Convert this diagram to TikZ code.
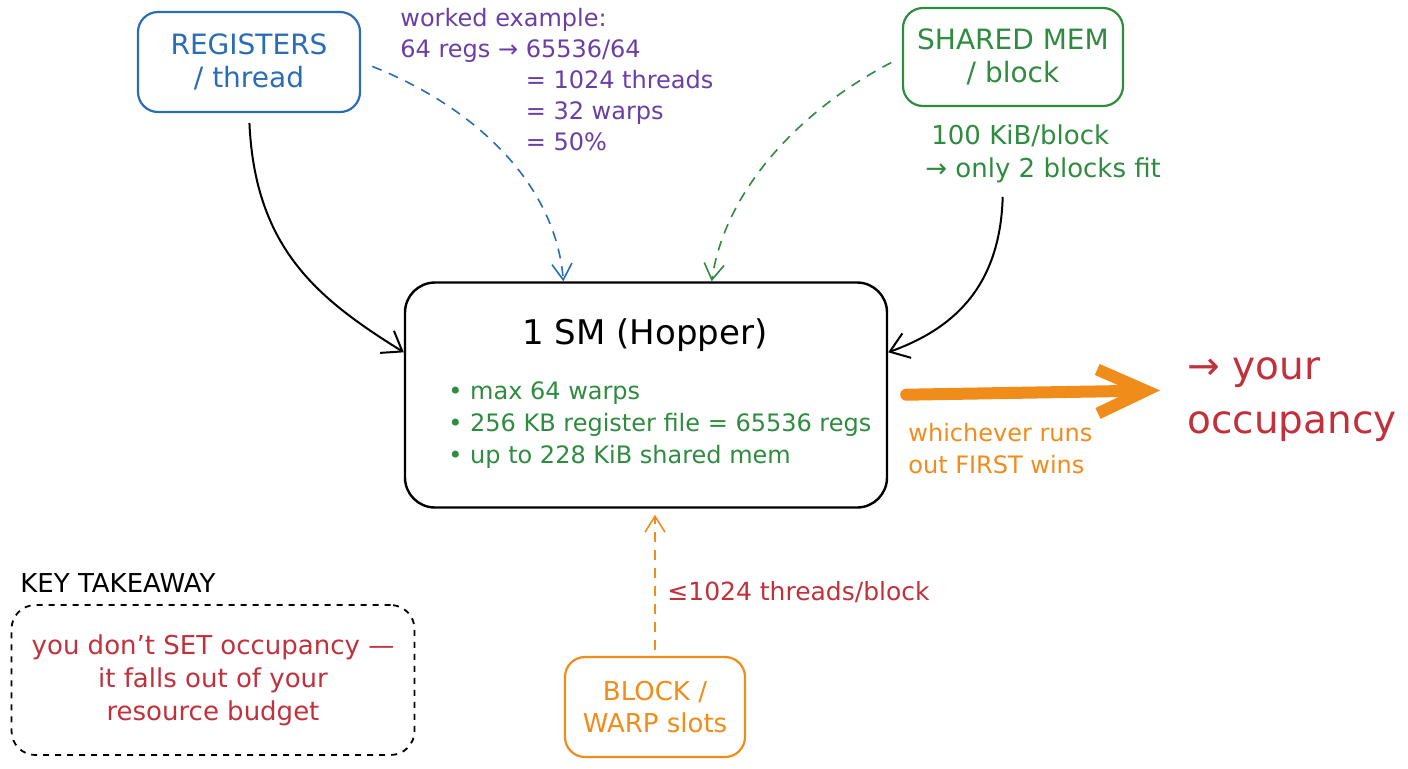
\documentclass[tikz,border=0pt]{standalone}
\usepackage{fontspec}
\setmainfont{DejaVu Sans}
\usetikzlibrary{positioning, arrows.meta}
\usepackage{xcolor}
\definecolor{regblue}{HTML}{2A6DB4}
\definecolor{exviolet}{HTML}{6A3FA5}
\definecolor{shmgreen}{HTML}{2E8B3F}
\definecolor{flowor}{HTML}{F08C1A}
\definecolor{occred}{HTML}{C0313C}

\begin{document}
\begin{tikzpicture}[x=0.5pt, y=-0.5pt,
  every node/.style={inner sep=2pt},
  limitbox/.style={rectangle, rounded corners=10pt, line width=1.1pt, align=center, font=\fontsize{14}{16.5}\selectfont},
  note/.style={align=left, font=\fontsize{12}{15.5}\selectfont},
  flow/.style={line width=1pt, -{Straight Barb[length=9pt, width=13pt]}},
  hint/.style={line width=0.8pt, dash pattern=on 5pt off 4pt, -{Straight Barb[length=8pt, width=10pt]}}]
\useasboundingbox (0,0) rectangle (1408,768);

% resource limits
\node[limitbox, draw=regblue, text=regblue, minimum width=111pt, minimum height=50pt] (regs) at (249,62) {REGISTERS\\/ thread};
\node[note, text=exviolet, anchor=north west] (wex) at (396,4) {worked example:\\64 regs → 65536/64\\\phantom{64 regs → }= 1024 threads\\\phantom{64 regs → }= 32 warps\\\phantom{64 regs → }= 50\%};
\node[limitbox, draw=shmgreen, text=shmgreen, minimum width=110pt, minimum height=49pt] (shm) at (1013,57) {SHARED MEM\\/ block};
\node[note, text=shmgreen, anchor=north west, font=\fontsize{13}{16.5}\selectfont] (shmnote) at (921,120) {\hspace*{3pt}100 KiB/block\\→ only 2 blocks fit};

% the SM
\node[draw, rounded corners=15pt, line width=1.2pt, minimum width=241pt, minimum height=112.5pt] (sm) at (646,395) {};
\node[font=\fontsize{17}{20}\selectfont] (smtitle) at (645,335) {1 SM (Hopper)};
\node[note, text=shmgreen, anchor=north west, font=\fontsize{12}{16}\selectfont] (smlist) at (444,377) {• max 64 warps\\• 256 KB register file = 65536 regs\\• up to 228 KiB shared mem};

% result
\node[note, text=occred, anchor=west, font=\fontsize{19.5}{27}\selectfont] (occ) at (1183,400) {→ your\\occupancy};
\node[note, text=flowor, anchor=north west, font=\fontsize{12}{16}\selectfont] (wins) at (904,419) {whichever runs\\out FIRST wins};

% block slots
\node[limitbox, draw=flowor, text=flowor, minimum width=90pt, minimum height=50pt, font=\fontsize{13}{16}\selectfont] (blk) at (655,707) {BLOCK /\\WARP slots};
\node[note, text=occred, anchor=west, font=\fontsize{12.5}{14}\selectfont] (tpb) at (663,592) {≤1024 threads/block};

% takeaway
\node[anchor=west, font=\fontsize{13}{14}\selectfont] (keyhead) at (16,583) {KEY TAKEAWAY};
\node[draw, dashed, rounded corners=12pt, line width=0.9pt, minimum width=201.5pt, minimum height=75pt, align=center, text=occred, font=\fontsize{13}{16.5}\selectfont] (takeaway) at (213,680) {you don't SET occupancy —\\it falls out of your\\resource budget};

% connectors
\draw[flow, shorten <=5pt] (regs.south) .. controls (255,250) and (320,300) .. (sm.170);
\draw[flow, shorten <=5pt] ([xshift=-5pt]shmnote.south -| shm.south) .. controls (1000,290) and (950,330) .. (sm.10);
\draw[hint, draw=regblue, shorten <=6pt] (regs.east) .. controls (470,105) and (555,180) .. (sm.126);
\draw[hint, draw=shmgreen, shorten <=6pt] (shm.west) .. controls (800,110) and (725,190) .. (sm.60);
\draw[line width=6pt, draw=flowor, line cap=round, -{Straight Barb[length=24pt, width=22pt]}, shorten <=9pt, shorten >=11.5pt] (sm.east) -- ([yshift=5pt]occ.west);
\draw[hint, draw=flowor, shorten <=3pt, shorten >=3pt] (blk.north) -- (blk.north |- sm.south);
\end{tikzpicture}
\end{document}
